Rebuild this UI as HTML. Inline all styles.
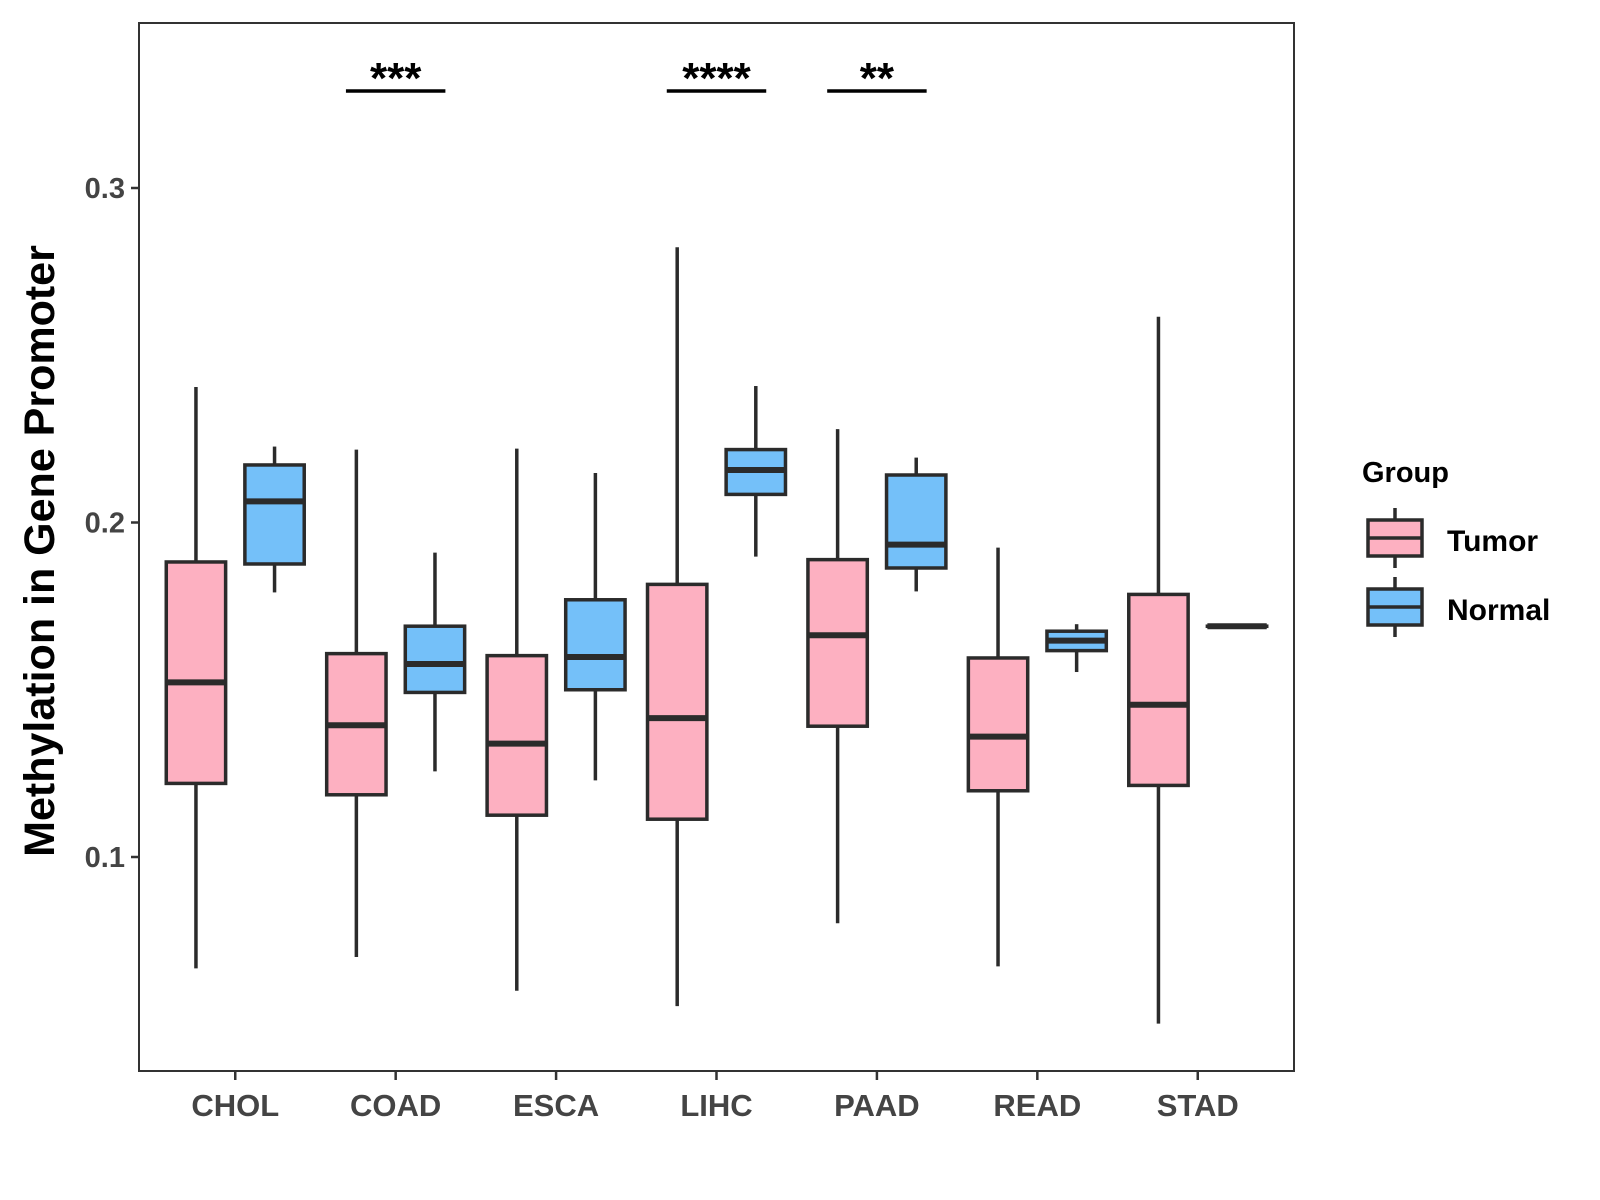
<!DOCTYPE html>
<html><head><meta charset="utf-8"><style>
html,body{margin:0;padding:0;background:#fff;}
svg{display:block;font-family:"Liberation Sans",Arial,sans-serif;}
</style></head><body>
<svg id="chart" width="1600" height="1200" viewBox="0 0 1600 1200">
<rect x="0" y="0" width="1600" height="1200" fill="#fff"/>
<g id="plot"></g>
</svg>
<script>
const categories = ["CHOL","COAD","ESCA","LIHC","PAAD","READ","STAD"];
const groups = ["Tumor","Normal"];
// [whiskerLow, Q1, median, Q3, whiskerHigh]
const tumorStats = [
 [0.0667,0.1220,0.1522,0.1882,0.2405],
 [0.0701,0.1186,0.1394,0.1608,0.2218],
 [0.0600,0.1125,0.1339,0.1602,0.2221],
 [0.0554,0.1113,0.1415,0.1815,0.2823],
 [0.0802,0.1391,0.1663,0.1889,0.2279],
 [0.0673,0.1198,0.1360,0.1595,0.1925],
 [0.0502,0.1214,0.1455,0.1785,0.2615]
];
const normalStats = [
 [0.1791,0.1876,0.2063,0.2172,0.2227],
 [0.1256,0.1492,0.1577,0.1690,0.1910],
 [0.1229,0.1500,0.1598,0.1769,0.2148],
 [0.1898,0.2084,0.2157,0.2218,0.2408],
 [0.1794,0.1864,0.1934,0.2142,0.2194],
 [0.1553,0.1617,0.1647,0.1675,0.1696],
 [0.1690,0.1690,0.1690,0.1690,0.1690]
];
const yTicks = [0.1,0.2,0.3];
const yTickLabels = ["0.1","0.2","0.3"];
const sigCategories = ["COAD","LIHC","PAAD"];
const sigLabels = ["***","****","**"];
const sigLevel = [0.329,0.329,0.329];

const NS="http://www.w3.org/2000/svg";
const P={l:139,r:1294,t:23,b:1071};
const unit=(P.r-P.l)/7.2;
function xScale(i){return P.l+(i+0.6)*unit;}
function yScale(v){return 857-(v-0.1)*3345;}
const g=document.getElementById('plot');
function el(tag,attrs,parent){const e=document.createElementNS(NS,tag);for(const k in attrs)e.setAttribute(k,attrs[k]);(parent||g).appendChild(e);return e;}
const LC="#2b2b2b";

function drawBox(cx,s,fill,name){
  const hw=unit*0.185;
  const bg=el('g',{});
  
  
  el('line',{x1:cx,x2:cx,y1:yScale(s[0]),y2:yScale(s[1]),stroke:LC,'stroke-width':3.5},bg);
  el('line',{x1:cx,x2:cx,y1:yScale(s[3]),y2:yScale(s[4]),stroke:LC,'stroke-width':3.5},bg);
  el('rect',{x:cx-hw,y:yScale(s[3]),width:2*hw,height:Math.max(0.1,yScale(s[1])-yScale(s[3])),fill:fill,stroke:LC,'stroke-width':3.5},bg);
  el('line',{x1:cx-hw,x2:cx+hw,y1:yScale(s[2]),y2:yScale(s[2]),stroke:LC,'stroke-width':6},bg);
}
categories.forEach((c,i)=>{
  drawBox(xScale(i)-unit*0.245,tumorStats[i],"#FDB0C1","box-tumor-"+c.toLowerCase());
  drawBox(xScale(i)+unit*0.245,normalStats[i],"#74C0F9","box-normal-"+c.toLowerCase());
});
const border=el('rect',{x:P.l,y:P.t,width:P.r-P.l,height:P.b-P.t,fill:'none',stroke:'#333','stroke-width':2});


yTicks.forEach((v,i)=>{
  const y=yScale(v);
  el('line',{x1:P.l-8,x2:P.l,y1:y,y2:y,stroke:'#333','stroke-width':2.5});
  const t=el('text',{x:P.l-14,y:y+10,'text-anchor':'end','font-size':29,'font-weight':'bold',fill:'#444'});
  t.textContent=yTickLabels[i];
  
  
});
categories.forEach((c,i)=>{
  const x=xScale(i);
  el('line',{x1:x,x2:x,y1:P.b,y2:P.b+9,stroke:'#333','stroke-width':2.5});
  const t=el('text',{x:x,y:1116,'text-anchor':'middle','font-size':31,'font-weight':'bold',fill:'#444'});
  t.textContent=c;
  
  
});
sigCategories.forEach((c,k)=>{
  const i=categories.indexOf(c);const x=xScale(i);const y=yScale(sigLevel[k]);
  const ln=el('line',{x1:x-unit*0.31,x2:x+unit*0.31,y1:y,y2:y,stroke:'#000','stroke-width':3.5});
  
  
  const t=el('text',{x:x,y:y+2,'text-anchor':'middle','font-size':44,'font-weight':'bold',fill:'#000'});
  t.textContent=sigLabels[k];
  
  
});
const yt=el('text',{x:0,y:0,transform:'translate(54,551) rotate(-90)','text-anchor':'middle','font-size':43,'font-weight':'bold',fill:'#000'});
yt.textContent="Methylation in Gene Promoter";


const lg=el('g',{});


const lt=el('text',{x:1362,y:482,'font-size':29,'font-weight':'bold',fill:'#000'},lg);
lt.textContent="Group";


const legFills=["#FDB0C1","#74C0F9"];const legY=[520,589];
groups.forEach((gname,k)=>{
  const e=el('g',{},lg);
  
  
  const y0=legY[k],cx=1395;
  el('line',{x1:cx,x2:cx,y1:y0-12,y2:y0+48,stroke:LC,'stroke-width':3.5},e);
  el('rect',{x:1368,y:y0,width:54,height:36,fill:legFills[k],stroke:LC,'stroke-width':3.5},e);
  el('line',{x1:1368,x2:1422,y1:y0+18,y2:y0+18,stroke:LC,'stroke-width':3.5},e);
  const t=el('text',{x:1447,y:y0+31,'font-size':30,'font-weight':'bold',fill:'#000'},e);
  t.textContent=gname;
});
</script>
</body></html>
